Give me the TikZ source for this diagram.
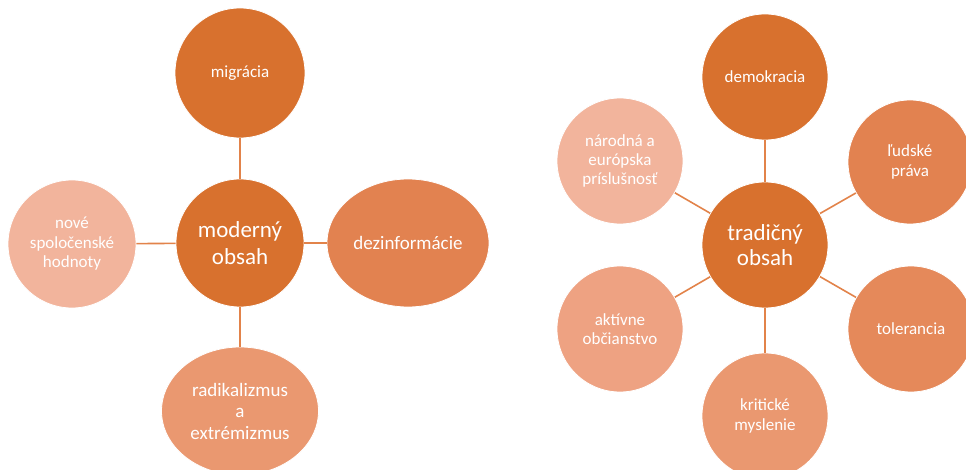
\documentclass[tikz,border=0pt]{standalone}
\usepackage{fontspec}
\setmainfont{Carlito}
\usetikzlibrary{shapes.geometric}
\definecolor{cA}{HTML}{D8712E}
\definecolor{cB}{HTML}{E28250}
\definecolor{cC}{HTML}{E5895A}
\definecolor{cD}{HTML}{EA9870}
\definecolor{cE}{HTML}{EEA282}
\definecolor{cF}{HTML}{F2B49C}
\definecolor{lineC}{HTML}{E2834A}
\tikzset{
  bub/.style={circle, minimum size=#1, inner sep=0pt, draw=white, line width=0.8pt, text=white, align=center},
  ell/.style={ellipse, minimum width=#1, inner sep=0pt, draw=white, line width=0.8pt, text=white, align=center},
  spoke/.style={draw=lineC, line width=1.6pt},
}
\newcommand{\fs}[2]{\fontsize{#1}{#2}\selectfont}
\begin{document}
\begin{tikzpicture}[x=1pt,y=-1pt]
\useasboundingbox (0,0) rectangle (966,470);
% left diagram
\node[bub=128, fill=cA, font=\fs{23}{27}] (mod) at (240,243) {moderný\\obsah};
\node[bub=130, fill=cA, font=\fs{17}{20}] (mig) at (240,73) {migrácia};
\node[ell=162, minimum height=128, fill=cB, font=\fs{19}{22}] (dez) at (408,243) {dezinformácie};
\node[bub=128, fill=cF, font=\fs{17}{19.5}] (nov) at (72,244) {nové\\spoločenské\\hodnoty};
\node[ell=157, minimum height=128, fill=cD, font=\fs{19}{21.5}] (rad) at (240,411) {radikalizmus\\a\\extrémizmus};
\draw[spoke] (mod) -- (mig);
\draw[spoke] (mod) -- (dez);
\draw[spoke] (mod) -- (nov);
\draw[spoke] (mod) -- (rad);
% right diagram
\node[bub=126, fill=cA, font=\fs{23}{25}] (tra) at (765,245) {tradičný\\obsah};
\node[bub=126, fill=cA, font=\fs{17}{20}] (dem) at (765,77) {demokracia};
\node[bub=124, fill=cB, font=\fs{17}{20}] (lud) at (910,162) {ľudské\\práva};
\node[bub=126, fill=cC, font=\fs{17}{20}] (tol) at (911,329) {tolerancia};
\node[bub=126, fill=cD, font=\fs{17}{19.5}] (kri) at (765,416) {kritické\\myslenie};
\node[bub=126, fill=cE, font=\fs{17}{19.5}] (akt) at (620,329) {aktívne\\občianstvo};
\node[bub=126, fill=cF, font=\fs{17}{19}] (nar) at (620,161) {národná a\\európska\\príslušnosť};
\foreach \n in {dem,lud,tol,kri,akt,nar}
  \draw[spoke] (tra) -- (\n);
\end{tikzpicture}
\end{document}
